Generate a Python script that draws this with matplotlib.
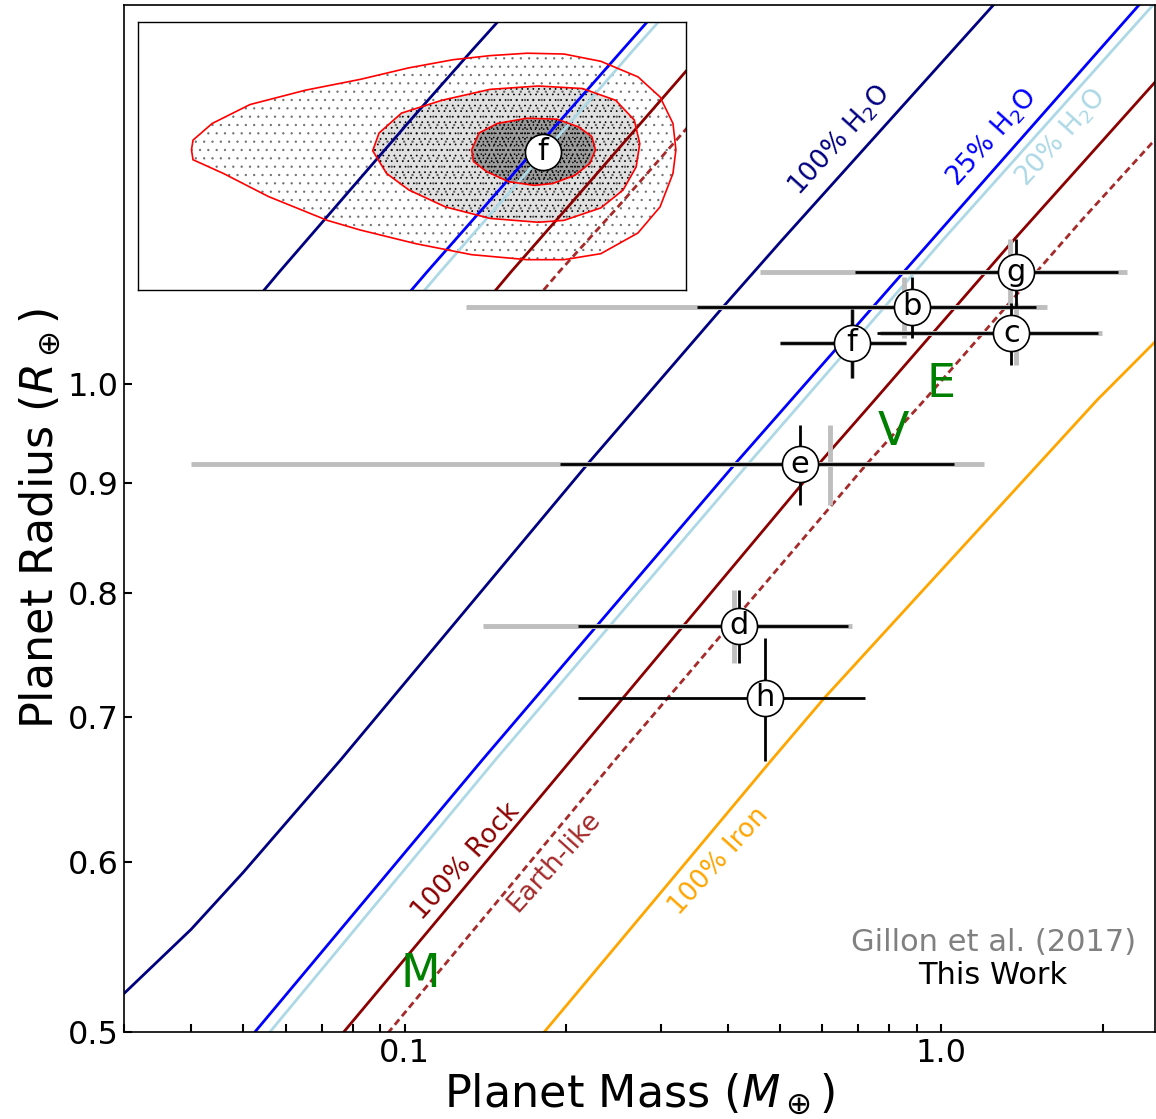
import matplotlib
matplotlib.use('Agg')
import matplotlib.pyplot as plt
from matplotlib.ticker import FixedLocator, FixedFormatter, NullLocator, LogLocator, NullFormatter
from matplotlib.patches import Polygon
import numpy as np

plt.rcParams['font.family'] = ['DejaVu Sans']
plt.rcParams['mathtext.fontset'] = 'dejavusans'
plt.rcParams['hatch.color'] = 'black'
plt.rcParams['hatch.linewidth'] = 0.5

# ---------------- composition curves (mass [M_earth], radius [R_earth]) ----------------
h2o100_mass = [0.030, 0.040, 0.050, 0.076, 0.220, 0.392, 0.504, 1.244, 1.30]
h2o100_rad = [0.521, 0.558, 0.593, 0.669, 0.919, 1.086, 1.166, 1.498, 1.516]

h2o25_mass = [0.050, 0.0526, 0.1396, 0.414, 0.958, 2.323, 2.5]
h2o25_rad = [0.492, 0.500, 0.669, 0.919, 1.166, 1.498, 1.529]

h2o20_mass = [0.053, 0.0561, 0.1476, 0.438, 1.004, 2.467, 2.6]
h2o20_rad = [0.4915, 0.500, 0.669, 0.919, 1.166, 1.498, 1.52]

rock_mass = [0.073, 0.077, 0.2044, 0.593, 0.751, 1.361, 2.499, 2.6]
rock_rad = [0.492, 0.500, 0.669, 0.919, 0.983, 1.166, 1.381, 1.40]

earth_mass = [0.090, 0.0934, 0.2467, 0.7286, 0.930, 1.828, 2.467, 2.6]
earth_rad = [0.495, 0.500, 0.669, 0.919, 0.983, 1.192, 1.294, 1.31]

iron_mass = [0.175, 0.182, 0.483, 0.606, 1.950, 2.499, 2.6]
iron_rad = [0.494, 0.500, 0.669, 0.715, 0.983, 1.046, 1.06]

curve_labels = [r'100% H$_2$O', r'25% H$_2$O', r'20% H$_2$O', '100% Rock', 'Earth-like', '100% Iron']
curve_label_mass = [0.646, 1.239, 1.671, 0.130, 0.190, 0.385]
curve_label_rad = [1.298, 1.301, 1.301, 0.600, 0.600, 0.600]

# ---------------- planets ----------------
planets = ['b', 'c', 'd', 'e', 'f', 'g', 'h']
radius = [1.086, 1.056, 0.772, 0.918, 1.045, 1.127, 0.715]
radius_err = [0.035, 0.035, 0.030, 0.039, 0.038, 0.041, 0.047]

# This work masses (asymmetric errors)
mass_tw = [0.88, 1.35, 0.42, 0.545, 0.68, 1.38, 0.47]
mass_tw_lo = [0.53, 0.59, 0.21, 0.35, 0.18, 0.69, 0.26]
mass_tw_hi = [0.62, 0.61, 0.25, 0.51, 0.18, 0.75, 0.25]

# Gillon et al. (2017) masses, planets b-g
gillon_planets = ['b', 'c', 'd', 'e', 'f', 'g']
mass_g = [0.85, 1.38, 0.41, 0.62, 0.68, 1.34]
mass_g_err = [0.72, 0.61, 0.27, 0.58, 0.18, 0.88]
radius_g = [1.086, 1.056, 0.772, 0.918, 1.045, 1.127]
radius_g_err = [0.035, 0.035, 0.030, 0.039, 0.038, 0.041]

# Solar system
ss_names = ['M', 'V', 'E']
ss_mass = [0.107, 0.815, 1.0]
ss_rad = [0.532, 0.949, 1.0]

# inset: planet f posterior contours (mass, radius)
outer_m = [0.151, 0.152, 0.173, 0.210, 0.270, 0.311, 0.395, 0.501, 0.635, 0.744, 0.871, 1.021,
           1.122, 1.186, 1.201, 1.186, 1.122, 1.021, 0.871, 0.744, 0.635, 0.542, 0.463, 0.383,
           0.311, 0.246, 0.194, 0.165, 0.152]
outer_r = [1.047, 1.036, 1.021, 0.996, 0.971, 0.961, 0.947, 0.936, 0.931, 0.931, 0.937, 0.958,
           0.985, 1.021, 1.047, 1.077, 1.108, 1.132, 1.151, 1.160, 1.161, 1.158, 1.153, 1.143,
           1.129, 1.116, 1.099, 1.077, 1.058]
mid_m = [0.328, 0.337, 0.371, 0.441, 0.542, 0.666, 0.805, 0.928, 1.005, 1.029, 1.013, 0.958,
         0.871, 0.744, 0.666, 0.542, 0.448, 0.383, 0.348]
mid_r = [1.046, 1.066, 1.089, 1.104, 1.117, 1.121, 1.118, 1.104, 1.081, 1.054, 1.028, 1.003,
         0.984, 0.971, 0.969, 0.973, 0.985, 1.003, 1.021]
inner_m = [0.501, 0.517, 0.559, 0.635, 0.721, 0.792, 0.838, 0.851, 0.831, 0.780, 0.709, 0.655,
           0.587, 0.534, 0.505]
inner_r = [1.047, 1.066, 1.077, 1.083, 1.082, 1.073, 1.062, 1.047, 1.032, 1.019, 1.010, 1.008,
           1.012, 1.023, 1.034]

# ---------------- figure ----------------
W, H = 1156, 1119
fig = plt.figure(figsize=(W / 100, H / 100), dpi=100)
ax = fig.add_axes([124 / W, 1 - 1032 / H, (1155 - 124) / W, (1032 - 5) / H])
ax.set_xscale('log')
ax.set_yscale('log')
ax.set_xlim(0.03, 2.5)
ax.set_ylim(0.5, 1.5)

curves = [
    (h2o100_mass, h2o100_rad, '#000080', '-'),
    (h2o25_mass, h2o25_rad, '#0000ff', '-'),
    (h2o20_mass, h2o20_rad, '#add8e6', '-'),
    (rock_mass, rock_rad, '#8b0000', '-'),
    (earth_mass, earth_rad, '#a52a2a', (0, (2.5, 1.5))),
    (iron_mass, iron_rad, '#ffa500', '-'),
]


def draw_curves(a):
    for m, r, c, ls in curves:
        a.plot(m, r, color=c, lw=2, ls=ls, zorder=1)


draw_curves(ax)

for lab, lm, lr, (_, _, c, _) in zip(curve_labels, curve_label_mass, curve_label_rad, curves):
    ax.text(lm, lr, lab, color=c, fontsize=19, rotation=48, ha='center', va='center',
            rotation_mode='anchor', zorder=2)

# Gillon error bars
ax.errorbar(mass_g, radius_g, xerr=mass_g_err, yerr=radius_g_err, fmt='none',
            ecolor='#bebebe', elinewidth=3.5, capsize=0, zorder=2)
# This work error bars
ax.errorbar(mass_tw, radius, xerr=[mass_tw_lo, mass_tw_hi], yerr=radius_err, fmt='none',
            ecolor='black', elinewidth=2, capsize=0, zorder=3)
ax.plot(mass_tw, radius, 'o', ms=26, mfc='white', mec='black', mew=1.2, ls='none', zorder=4)
for p, m, r in zip(planets, mass_tw, radius):
    ax.text(m, r, p, fontsize=22, ha='center', va='center', zorder=5)

for n, m, r in zip(ss_names, ss_mass, ss_rad):
    ax.text(m, r, n, fontsize=33, color='green', ha='center', va='center', zorder=5)

ax.text(0.843, 0.0876, 'Gillon et al. (2017)', color='gray', fontsize=22,
        ha='center', va='center', transform=ax.transAxes)
ax.text(0.843, 0.0555, 'This Work', color='black', fontsize=22,
        ha='center', va='center', transform=ax.transAxes)

ax.xaxis.set_major_locator(FixedLocator([0.1, 1.0]))
ax.xaxis.set_major_formatter(FixedFormatter(['0.1', '1.0']))
ax.xaxis.set_minor_locator(LogLocator(base=10, subs=[2, 3, 4, 5, 6, 7, 8, 9]))
ax.xaxis.set_minor_formatter(NullFormatter())
ax.yaxis.set_major_locator(FixedLocator([0.5, 0.6, 0.7, 0.8, 0.9, 1.0]))
ax.yaxis.set_major_formatter(FixedFormatter(['0.5', '0.6', '0.7', '0.8', '0.9', '1.0']))
ax.yaxis.set_minor_locator(NullLocator())
ax.tick_params(which='both', direction='in', top=False, right=False, labelsize=23, width=1.5,
               length=5.5, pad=4)
for s in ax.spines.values():
    s.set_linewidth(1.2)

ax.set_xlabel(r'Planet Mass ($M_\oplus$)', fontsize=32, labelpad=2)
ax.set_ylabel(r'Planet Radius ($R_\oplus$)', fontsize=32, labelpad=4)

# ---------------- inset ----------------
axi = fig.add_axes([137.8 / W, 1 - 290 / H, 548.2 / W, 268.3 / H], zorder=5)
axi.set_xscale('log')
axi.set_yscale('log')
axi.set_xlim(0.12, 1.254)
axi.set_ylim(0.9013, 1.2008)
axi.tick_params(which='both', bottom=False, left=False, labelbottom=False, labelleft=False)
axi.xaxis.set_minor_locator(NullLocator())
axi.yaxis.set_minor_locator(NullLocator())
for s in axi.spines.values():
    s.set_linewidth(1.0)

axi.add_patch(Polygon(np.column_stack([outer_m, outer_r]), closed=True, facecolor='none',
                      edgecolor='black', hatch='..', lw=0, alpha=0.45, zorder=0.5))
axi.add_patch(Polygon(np.column_stack([mid_m, mid_r]), closed=True, facecolor=(0, 0, 0, 0.12),
                      edgecolor='black', hatch='...', lw=0, zorder=0.6))
axi.add_patch(Polygon(np.column_stack([inner_m, inner_r]), closed=True, facecolor=(0, 0, 0, 0.3),
                      edgecolor='black', hatch='....', lw=0, zorder=0.7))

draw_curves(axi)

for cm, cr in [(outer_m, outer_r), (mid_m, mid_r), (inner_m, inner_r)]:
    axi.add_patch(Polygon(np.column_stack([cm, cr]), closed=True, fill=False,
                          edgecolor='red', lw=1.2, zorder=2))

axi.plot([mass_tw[4]], [radius[4]], 'o', ms=26, mfc='white', mec='black', mew=1.2, zorder=4)
axi.text(mass_tw[4], radius[4], 'f', fontsize=22, ha='center', va='center', zorder=5)

fig.savefig('out.png', dpi=100)
